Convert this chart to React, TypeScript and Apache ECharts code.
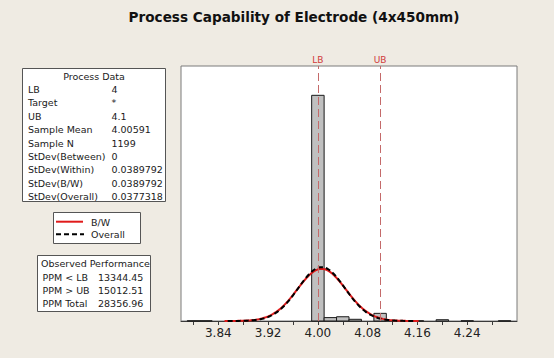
import React, { useEffect, useRef } from "react";
import * as echarts from "echarts";

// ---- Data ----
const binWidth = 0.02;
const binCenters = [3.8, 3.82, 4.0, 4.02, 4.04, 4.06, 4.1, 4.16, 4.2, 4.24, 4.3];
const binCounts = [1, 1, 1062, 16, 20, 8, 36, 1, 6, 1, 1];

const LB = 4;
const UB = 4.1;
const sampleN = 1199;
const sampleMean = 4.00591;
const stdevWithin = 0.0389792; // B/W
const stdevOverall = 0.0377318;

const xTicks = [3.8, 3.84, 3.88, 3.92, 3.96, 4.0, 4.04, 4.08, 4.12, 4.16, 4.2, 4.24, 4.28];
const xLabels = [3.84, 3.92, 4.0, 4.08, 4.16, 4.24];

const processLabels = ["LB", "Target", "UB", "Sample Mean", "Sample N", "StDev(Between)", "StDev(Within)", "StDev(B/W)", "StDev(Overall)"];
const processValues = ["4", "*", "4.1", "4.00591", "1199", "0", "0.0389792", "0.0389792", "0.0377318"];
const perfLabels = ["PPM < LB", "PPM > UB", "PPM Total"];
const perfValues = ["13344.45", "15012.51", "28356.96"];

// fitted normal curve (scaled to histogram counts) from the stated parameters
function fittedCurve(mean: number, sd: number): number[][] {
  const pts: number[][] = [];
  const steps = 120;
  const a = mean - 4 * sd;
  const b = mean + 4 * sd;
  for (let i = 0; i <= steps; i++) {
    const x = a + ((b - a) * i) / steps;
    const z = (x - mean) / sd;
    const pdf = Math.exp(-0.5 * z * z) / (sd * Math.sqrt(2 * Math.PI));
    pts.push([x, sampleN * binWidth * pdf]);
  }
  return pts;
}

const FONT = '"DejaVu Sans", Verdana, sans-serif';
const TXT = "#1a1a1a";
const PF = `9.5px ${FONT}`;

function buildGraphic() {
  const els: any[] = [];
  // Title
  els.push({
    type: "text",
    x: 294,
    y: 17,
    style: { text: "Process Capability of Electrode (4x450mm)", fill: "#111", font: `bold 13.6px ${FONT}`, align: "center", verticalAlign: "middle" },
  });
  // Process Data box
  els.push({ type: "rect", shape: { x: 22.5, y: 68.5, width: 143, height: 133 }, style: { fill: "#fff", stroke: "#555", lineWidth: 1 } });
  els.push({ type: "text", x: 94, y: 76, style: { text: "Process Data", fill: TXT, font: PF, align: "center", verticalAlign: "middle" } });
  processLabels.forEach((l, i) => {
    const y = 89.5 + i * 13.4;
    els.push({ type: "text", x: 28, y, style: { text: l, fill: TXT, font: PF, verticalAlign: "middle" } });
    els.push({ type: "text", x: 111.5, y, style: { text: processValues[i], fill: TXT, font: PF, verticalAlign: "middle" } });
  });
  // Legend box
  els.push({ type: "rect", shape: { x: 53.5, y: 212.5, width: 87, height: 31 }, style: { fill: "#fff", stroke: "#555", lineWidth: 1 } });
  els.push({ type: "line", shape: { x1: 56, y1: 221.7, x2: 83, y2: 221.7 }, style: { stroke: "#e01a1a", lineWidth: 2 } });
  els.push({ type: "text", x: 91, y: 222, style: { text: "B/W", fill: TXT, font: PF, verticalAlign: "middle" } });
  els.push({ type: "line", shape: { x1: 56, y1: 234.3, x2: 84, y2: 234.3 }, style: { stroke: "#000", lineWidth: 2, lineDash: [5, 3] } });
  els.push({ type: "text", x: 91, y: 234.5, style: { text: "Overall", fill: TXT, font: PF, verticalAlign: "middle" } });
  // Observed Performance box
  els.push({ type: "rect", shape: { x: 37.5, y: 255.5, width: 113, height: 56 }, style: { fill: "#fff", stroke: "#555", lineWidth: 1 } });
  els.push({ type: "text", x: 41, y: 263.5, style: { text: "Observed Performance", fill: TXT, font: PF, verticalAlign: "middle" } });
  perfLabels.forEach((l, i) => {
    const y = 277 + i * 13.4;
    els.push({ type: "text", x: 42.5, y, style: { text: l, fill: TXT, font: PF, verticalAlign: "middle" } });
    els.push({ type: "text", x: 98, y, style: { text: perfValues[i], fill: TXT, font: PF, verticalAlign: "middle" } });
  });
  return els;
}

export default function App() {
  const ref = useRef<HTMLDivElement>(null);
  useEffect(() => {
    if (!ref.current) return;
    const chart = echarts.init(ref.current, undefined, { renderer: "svg" });
    const option: any = {
      animation: false,
      backgroundColor: "#efebe3",
      textStyle: { fontFamily: FONT },
      grid: { left: 181, top: 66, right: 37, bottom: 37, show: true, backgroundColor: "#fff", borderColor: "#7a7a7a", borderWidth: 1 },
      xAxis: {
        type: "value",
        min: 3.78,
        max: 4.32,
        splitLine: { show: false },
        axisLine: { show: true, onZero: false, lineStyle: { color: "#3a3a3a", width: 1 } },
        axisTick: { show: true, customValues: xTicks, length: 4, lineStyle: { color: "#3a3a3a" } },
        axisLabel: {
          customValues: xLabels,
          formatter: (v: number) => v.toFixed(2),
          color: "#222",
          fontSize: 12,
          fontFamily: FONT,
          margin: 6,
        },
      },
      yAxis: { type: "value", min: 0, max: 1200, show: false, splitLine: { show: false } },
      series: [
        {
          type: "custom",
          z: 2,
          encode: { x: 0, y: 1 },
          data: binCenters.map((c, i) => [c, binCounts[i]]),
          renderItem: (params: any, api: any) => {
            const c = api.value(0);
            const v = api.value(1);
            const p0 = api.coord([c - binWidth / 2, v]);
            const p1 = api.coord([c + binWidth / 2, 0]);
            return {
              type: "rect",
              shape: { x: p0[0], y: p0[1], width: p1[0] - p0[0], height: p1[1] - p0[1] },
              style: { fill: "#c0c0c0", stroke: "#1a1a1a", lineWidth: 1 },
            };
          },
        },
        {
          type: "line",
          name: "B/W",
          z: 3,
          showSymbol: false,
          symbol: "none",
          data: fittedCurve(sampleMean, stdevWithin),
          lineStyle: { color: "#e01a1a", width: 2 },
          markLine: {
            silent: true,
            symbol: "none",
            lineStyle: { color: "#c46a6a", type: [8, 4], width: 1 },
            label: { show: true, position: "end", color: "#d03a3a", fontSize: 9, fontFamily: FONT, distance: 2 },
            data: [
              { xAxis: LB, label: { formatter: "LB" } },
              { xAxis: UB, label: { formatter: "UB" } },
            ],
          },
        },
        {
          type: "line",
          name: "Overall",
          z: 4,
          showSymbol: false,
          symbol: "none",
          data: fittedCurve(sampleMean, stdevOverall),
          lineStyle: { color: "#000", width: 2, type: [5, 3] },
        },
      ],
      graphic: buildGraphic(),
    };
    chart.setOption(option);
    return () => chart.dispose();
  }, []);
  return <div ref={ref} style={{ position: "absolute", left: 0, top: 0, width: 554, height: 358 }} />;
}
